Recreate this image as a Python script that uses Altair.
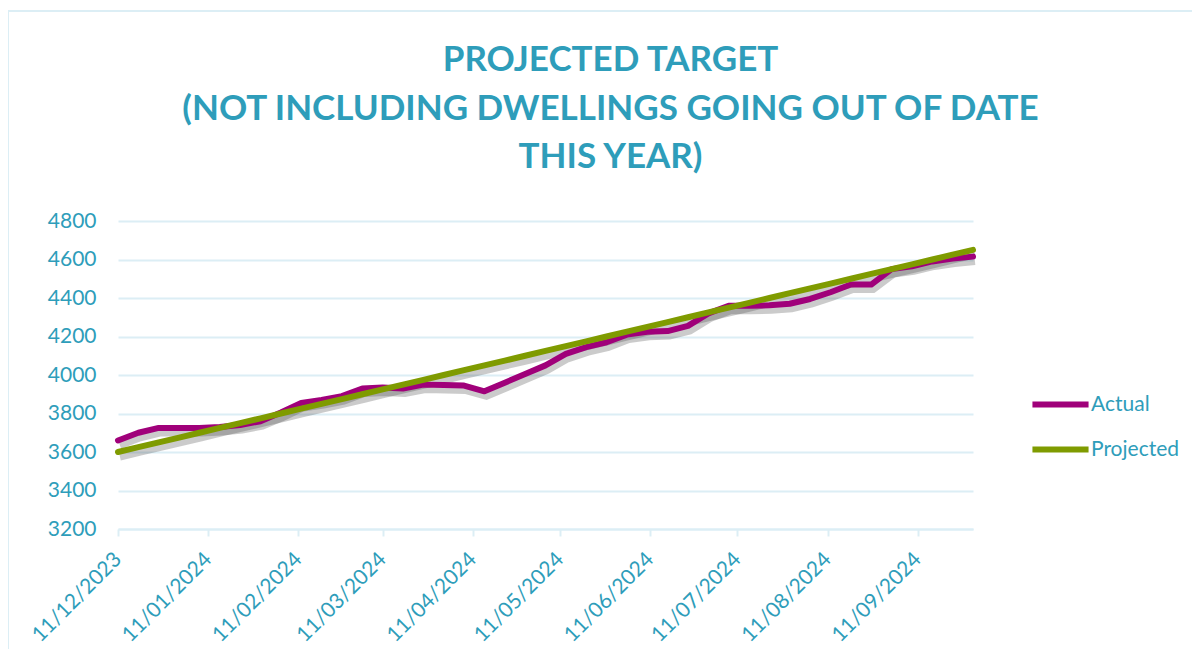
import altair as alt
import pandas as pd

# Weekly reporting dates
dates = [
    "2023-12-11", "2023-12-18", "2023-12-25", "2024-01-01", "2024-01-08", "2024-01-15",
    "2024-01-22", "2024-01-29", "2024-02-05", "2024-02-12", "2024-02-19", "2024-02-26",
    "2024-03-04", "2024-03-11", "2024-03-18", "2024-03-25", "2024-04-01", "2024-04-08",
    "2024-04-15", "2024-04-22", "2024-04-29", "2024-05-06", "2024-05-13", "2024-05-20",
    "2024-05-27", "2024-06-03", "2024-06-10", "2024-06-17", "2024-06-24", "2024-07-01",
    "2024-07-08", "2024-07-15", "2024-07-22", "2024-07-29", "2024-08-05", "2024-08-12",
    "2024-08-19", "2024-08-26", "2024-09-02", "2024-09-09", "2024-09-16", "2024-09-23",
    "2024-09-30",
]

actual = [
    3660, 3700, 3725, 3725, 3725, 3730, 3740, 3760, 3805, 3855,
    3870, 3890, 3930, 3935, 3930, 3950, 3948, 3945, 3915, 3960,
    4005, 4050, 4110, 4145, 4170, 4210, 4225, 4228, 4255, 4320,
    4360, 4360, 4362, 4370, 4395, 4430, 4470, 4470, 4550, 4565,
    4590, 4605, 4615,
]

projected = [
    3600, 3625, 3650, 3675, 3700, 3725, 3750, 3775, 3800, 3825,
    3850, 3875, 3900, 3925, 3950, 3975, 4000, 4025, 4050, 4075,
    4100, 4125, 4150, 4175, 4200, 4225, 4250, 4275, 4300, 4325,
    4350, 4375, 4400, 4425, 4450, 4475, 4500, 4525, 4550, 4575,
    4600, 4625, 4650,
]

series_names = ["Actual", "Projected"]
series_colors = ["#A0007A", "#7F9B00"]

y_ticks = [3200, 3400, 3600, 3800, 4000, 4200, 4400, 4600, 4800]
x_tick_dates = [
    (2023, 12, 11), (2024, 1, 11), (2024, 2, 11), (2024, 3, 11), (2024, 4, 11),
    (2024, 5, 11), (2024, 6, 11), (2024, 7, 11), (2024, 8, 11), (2024, 9, 11),
]

title_lines = ["PROJECTED TARGET", "(NOT INCLUDING DWELLINGS GOING OUT OF DATE", "THIS YEAR)"]

TEAL = "#2E9DBA"
GRID = "#DCEEF5"
FONT = "Lato"

df = pd.concat([
    pd.DataFrame({"date": dates, "value": actual, "series": "Actual"}),
    pd.DataFrame({"date": dates, "value": projected, "series": "Projected"}),
])

x_enc = alt.X(
    "date:T",
    scale=alt.Scale(type="utc", nice=False),
    axis=alt.Axis(
        values=[alt.DateTime(year=y, month=m, date=d, utc=True) for y, m, d in x_tick_dates],
        format="%d/%m/%Y",
        labelAngle=315,
        labelAlign="right",
        labelBaseline="middle",
        labelPadding=20,
        labelFontSize=21,
        labelColor=TEAL,
        labelFont=FONT,
        labelOverlap=False,
        labelBound=False,
        grid=False,
        domainColor=GRID,
        domainWidth=2,
        tickColor=GRID,
        tickWidth=2,
        tickSize=7,
        title=None,
    ),
)
y_enc = alt.Y(
    "value:Q",
    scale=alt.Scale(domain=[3200, 4800], nice=False, zero=False),
    axis=alt.Axis(
        values=y_ticks,
        format="d",
        labelFontSize=21,
        labelColor=TEAL,
        labelFont=FONT,
        labelPadding=22,
        ticks=False,
        domain=False,
        grid=True,
        gridColor=GRID,
        gridWidth=2,
        title=None,
    ),
)

base = alt.Chart(df)

frame = base.mark_rect(fill="transparent", stroke=GRID, strokeWidth=2).encode(
    x=alt.value(-110), x2=alt.value(1200), y=alt.value(-210), y2=alt.value(700)
)

shadow = base.mark_line(strokeWidth=7, color="#444444", opacity=0.28, xOffset=2, yOffset=5).encode(
    x=x_enc, y=y_enc, detail="series:N"
)

lines = base.mark_line(strokeWidth=6, strokeCap="round", strokeJoin="round").encode(
    x=x_enc,
    y=y_enc,
    color=alt.Color(
        "series:N",
        scale=alt.Scale(domain=series_names, range=series_colors),
        legend=alt.Legend(
            title=None,
            orient="none",
            legendX=930,
            legendY=171,
            symbolType="M-3,0H3",
            symbolSize=350,
            symbolStrokeWidth=6,
            labelFontSize=21,
            labelColor=TEAL,
            labelFont=FONT,
            labelOffset=18,
            rowPadding=20,
        ),
    ),
)

chart = (
    alt.layer(frame, shadow, lines)
    .properties(
        width=855,
        height=308,
        padding={"left": 110, "top": 213, "right": 219, "bottom": 120},
        autosize=alt.AutoSizeParams(type="none"),
        title=alt.TitleParams(
            text=title_lines,
            font=FONT,
            fontSize=35,
            fontWeight="bold",
            color=TEAL,
            anchor="middle",
            lineHeight=48.5,
            offset=40,
            dx=65,
            dy=205,
        ),
    )
    .configure(background="white")
    .configure_view(stroke="transparent")
)

chart.save("out.html", embed_options={"renderer": "svg", "actions": False})
